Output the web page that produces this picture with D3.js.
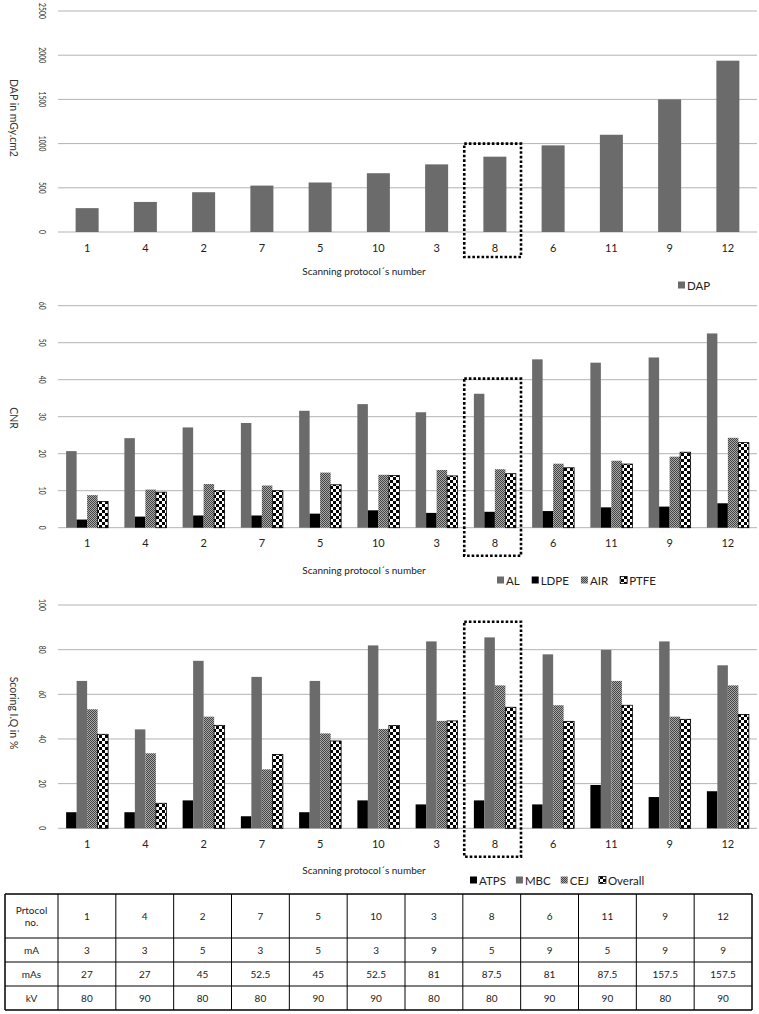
<!DOCTYPE html>
<html><head><meta charset="utf-8">
<script src="https://cdn.jsdelivr.net/npm/d3@7"></script>
<style>body{margin:0;background:#fff;} svg{display:block;font-family:Lato, "Liberation Sans", sans-serif;}</style>
</head><body><svg id="c" width="759" height="1014"></svg>
<script>
// ---------- data ----------
const protocols = ["1","4","2","7","5","10","3","8","6","11","9","12"];
const dapValues = [270, 340, 450, 525, 560, 665, 765, 852, 980, 1100, 1500, 1938];
const dapTicks = [0, 500, 1000, 1500, 2000, 2500];

const cnrAL   = [20.7, 24.2, 27.1, 28.3, 31.6, 33.4, 31.2, 36.2, 45.5, 44.6, 46.0, 52.5];
const cnrLDPE = [2.2, 3.0, 3.3, 3.3, 3.8, 4.7, 4.0, 4.3, 4.5, 5.5, 5.7, 6.6];
const cnrAIR  = [8.8, 10.3, 11.8, 11.4, 14.9, 14.3, 15.6, 15.8, 17.3, 18.1, 19.2, 24.3];
const cnrPTFE = [7.1, 9.6, 10.0, 10.0, 11.6, 14.1, 14.0, 14.6, 16.2, 17.2, 20.4, 23.0];
const cnrTicks = [0, 10, 20, 30, 40, 50, 60];

const iqATPS    = [7.2, 7.2, 12.5, 5.4, 7.2, 12.5, 10.7, 12.5, 10.7, 19.4, 14.0, 16.6];
const iqMBC     = [66.0, 44.3, 75.0, 67.8, 66.0, 81.9, 83.7, 85.5, 77.9, 79.9, 83.7, 73.0];
const iqCEJ     = [53.3, 33.6, 50.0, 26.4, 42.5, 44.5, 48.1, 64.0, 55.1, 66.0, 50.0, 64.0];
const iqOverall = [42.1, 11.2, 46.1, 33.1, 39.1, 46.0, 48.1, 54.2, 47.9, 55.1, 48.8, 51.0];
const iqTicks = [0, 20, 40, 60, 80, 100];

const tableLabels = ["Prtocol\nno.", "mA", "mAs", "kV"];
const mAValues  = [3, 3, 5, 3, 5, 3, 9, 5, 9, 5, 9, 9];
const mAsValues = [27, 27, 45, 52.5, 45, 52.5, 81, 87.5, 81, 87.5, 157.5, 157.5];
const kVValues  = [80, 90, 80, 80, 90, 90, 80, 80, 90, 90, 80, 90];

const highlighted = "8";
const xTitle = "Scanning protocol\u00b4s number";

// ---------- drawing ----------
const svg = d3.select("#c");
const defs = svg.append("defs");
const dith = defs.append("pattern").attr("id","dither").attr("patternUnits","userSpaceOnUse").attr("width",2).attr("height",2);
dith.append("rect").attr("width",2).attr("height",2).attr("fill","#a8a8a8");
dith.append("rect").attr("width",1).attr("height",1).attr("fill","#454545");
dith.append("rect").attr("x",1).attr("y",1).attr("width",1).attr("height",1).attr("fill","#454545");
const chk = defs.append("pattern").attr("id","checker").attr("patternUnits","userSpaceOnUse").attr("width",6).attr("height",6);
chk.append("rect").attr("width",6).attr("height",6).attr("fill","#fff");
chk.append("rect").attr("width",3).attr("height",3).attr("fill","#000");
chk.append("rect").attr("x",3).attr("y",3).attr("width",3).attr("height",3).attr("fill","#000");

const fills = {gray:"#6b6b6b", black:"#000", dither:"url(#dither)", checker:"url(#checker)"};
const X0 = 58, X1 = 757;
const x = d3.scaleBand().domain(protocols).range([X0, X1]);

function drawChart(cfg) {
  const g = svg.append("g");
  const y = d3.scaleLinear().domain([0, cfg.max]).range([cfg.yBottom, cfg.yTop]);
  g.selectAll(".grid").data(cfg.ticks).join("line")
    .attr("x1", X0).attr("x2", X1).attr("y1", d => y(d)).attr("y2", d => y(d))
    .attr("stroke", "#b3b3b3").attr("stroke-width", 1);
  g.selectAll(".yt").data(cfg.ticks).join("text")
    .attr("transform", d => `translate(43,${y(d)}) rotate(90) scale(0.68,1)`)
    .attr("text-anchor","middle").attr("dominant-baseline","central")
    .attr("font-size", 10).attr("fill","#333").text(d => d);
  svg.append("text").attr("transform", `translate(14,${cfg.titleY}) rotate(90)`)
    .attr("text-anchor","middle").attr("dominant-baseline","central")
    .attr("font-size", 10.5).attr("fill","#333").text(cfg.ytitle);
  const names = cfg.series.map(s => s.name);
  const inner = d3.scaleBand().domain(names).range([(x.bandwidth()-cfg.groupW)/2, (x.bandwidth()+cfg.groupW)/2]);
  cfg.series.forEach(s => {
    g.selectAll(null).data(protocols).join("rect")
      .attr("x", (p) => x(p) + inner(s.name))
      .attr("width", inner.bandwidth())
      .attr("y", (p,i) => y(s.values[i]))
      .attr("height", (p,i) => y(0) - y(s.values[i]))
      .attr("fill", fills[s.fill])
      .attr("stroke", s.fill === "checker" ? "#000" : "none")
      .attr("stroke-width", 0.8);
  });
  g.selectAll(".xt").data(protocols).join("text")
    .attr("x", d => x(d) + x.bandwidth()/2).attr("y", cfg.yBottom + 15)
    .attr("text-anchor","middle").attr("dominant-baseline","central")
    .attr("font-size", 11).attr("fill","#222").text(d => d);
  g.append("text").attr("x", 364).attr("y", cfg.xTitleY).attr("text-anchor","middle")
    .attr("dominant-baseline","central").attr("font-size", 10).attr("fill","#222").text(xTitle);
  g.append("rect").attr("x", x(highlighted) - 1.5).attr("width", x.bandwidth() - 1.5)
    .attr("y", y(cfg.boxTop)).attr("height", cfg.yBottom + cfg.boxBelow - y(cfg.boxTop))
    .attr("fill","none").attr("stroke","#000").attr("stroke-width",2.6).attr("stroke-dasharray","2.6,2");
  let lx = cfg.legendX;
  cfg.series.forEach(s => {
    g.append("rect").attr("x", lx).attr("y", cfg.legendY - 3.5).attr("width", 7).attr("height", 7)
      .attr("fill", fills[s.fill]).attr("stroke", s.fill === "checker" ? "#000" : "none").attr("stroke-width",0.8);
    const t = g.append("text").attr("x", lx + 9).attr("y", cfg.legendY).attr("dominant-baseline","central")
      .attr("font-size", 11.5).attr("fill","#222").text(s.name);
    lx += 9 + t.node().getComputedTextLength() + cfg.legendGap;
  });
}

drawChart({max:2500, ticks:dapTicks, yTop:11, yBottom:232, titleY:118, ytitle:"DAP in mGy.cm2",
  groupW:23, series:[{name:"DAP", values:dapValues, fill:"gray"}],
  xTitleY:271, boxTop:1000, boxBelow:25, legendX:678, legendY:285, legendGap:12});

drawChart({max:60, ticks:cnrTicks, yTop:305.7, yBottom:527.7, titleY:418, ytitle:"CNR",
  groupW:42, series:[{name:"AL", values:cnrAL, fill:"gray"},{name:"LDPE", values:cnrLDPE, fill:"black"},
                     {name:"AIR", values:cnrAIR, fill:"dither"},{name:"PTFE", values:cnrPTFE, fill:"checker"}],
  xTitleY:570, boxTop:40.3, boxBelow:28, legendX:497, legendY:580, legendGap:12});

drawChart({max:100, ticks:iqTicks, yTop:605, yBottom:828.3, titleY:713, ytitle:"Scoring I.Q in %",
  groupW:42, series:[{name:"ATPS", values:iqATPS, fill:"black"},{name:"MBC", values:iqMBC, fill:"gray"},
                     {name:"CEJ", values:iqCEJ, fill:"dither"},{name:"Overall", values:iqOverall, fill:"checker"}],
  xTitleY:870, boxTop:92.5, boxBelow:28.4, legendX:470, legendY:880, legendGap:10});

// ---------- table ----------
const tbl = svg.append("g");
const rows = [protocols, mAValues, mAsValues, kVValues];
const rowH = [44, 24, 24, 24];
const tTop = 894, tLeft = 5, tRight = 752, firstW = 53;
const colX = d3.scaleBand().domain(d3.range(12)).range([tLeft + firstW, tRight]);
let yy = tTop;
rows.forEach((r, ri) => {
  const h = rowH[ri];
  const lines = tableLabels[ri].split("\n");
  lines.forEach((ln, li) => {
    tbl.append("text").attr("x", tLeft + firstW/2).attr("y", yy + h/2 + (li - (lines.length-1)/2) * 12)
      .attr("text-anchor","middle").attr("dominant-baseline","central").attr("font-size",10).attr("fill","#222").text(ln);
  });
  r.forEach((v, ci) => {
    tbl.append("text").attr("x", colX(ci) + colX.bandwidth()/2).attr("y", yy + h/2)
      .attr("text-anchor","middle").attr("dominant-baseline","central").attr("font-size",10).attr("fill","#222").text(v);
  });
  yy += h;
});
const tBottom = yy;
let acc = tTop;
const hLines = [tTop];
rowH.forEach(h => { acc += h; hLines.push(acc); });
tbl.selectAll(".hl").data(hLines).join("line").attr("x1", tLeft).attr("x2", tRight)
  .attr("y1", d => d).attr("y2", d => d).attr("stroke","#000").attr("stroke-width", (d,i) => (i===0||i===hLines.length-1)?1.5:1);
const vLines = [tLeft, tLeft + firstW].concat(d3.range(1,13).map(i => colX(i-1) + colX.bandwidth()));
tbl.selectAll(".vl").data(vLines).join("line").attr("x1", d => d).attr("x2", d => d)
  .attr("y1", tTop).attr("y2", tBottom).attr("stroke","#000").attr("stroke-width", (d,i) => (i===0||i===vLines.length-1)?1.5:1);
</script></body></html>
